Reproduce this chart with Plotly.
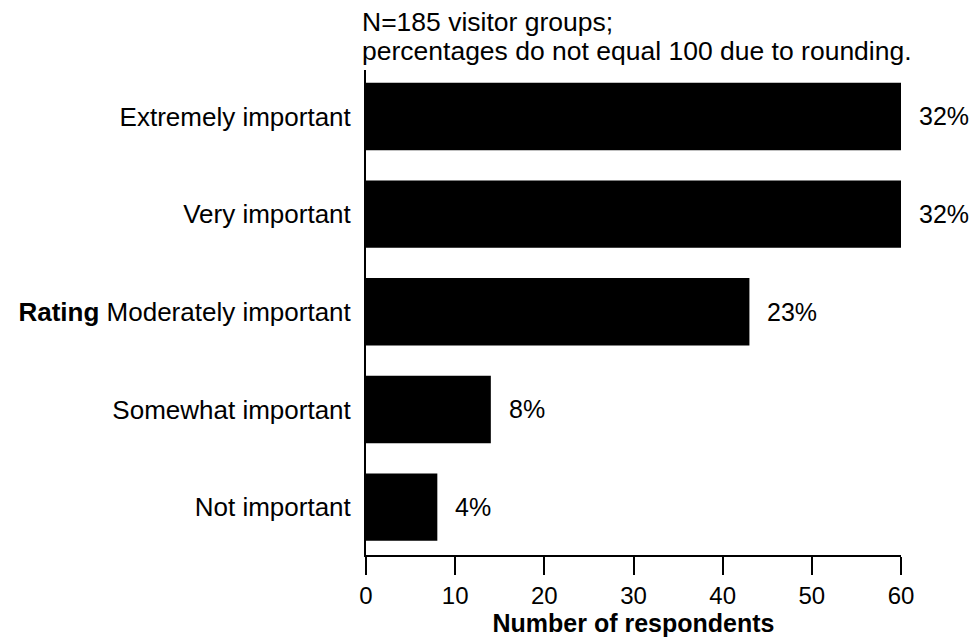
import plotly.graph_objects as go

categories = ["Not important", "Somewhat important", "Moderately important",
              "Very important", "Extremely important"]
tick_labels = ["Not important", "Somewhat important", "<b>Rating</b> Moderately important",
               "Very important", "Extremely important"]
respondents = [8, 14, 43, 60, 60]
percent_labels = ["4%", "8%", "23%", "32%", "32%"]
x_ticks = [0, 10, 20, 30, 40, 50, 60]
title_lines = ["N=185 visitor groups;", "percentages do not equal 100 due to rounding."]
x_title = "Number of respondents"

FONT = "Liberation Sans, Arial, Helvetica, sans-serif"
pos = list(range(len(categories)))

fig = go.Figure()
fig.add_trace(go.Bar(
    x=respondents, y=pos, orientation="h",
    marker=dict(color="black", line=dict(width=0)),
    width=0.69, hoverinfo="skip",
))

for p, v, lab in zip(pos, respondents, percent_labels):
    fig.add_annotation(x=v, y=p, xref="x", yref="y", text=lab, showarrow=False,
                       xanchor="left", xshift=16, font=dict(size=25, color="black", family=FONT))

for line, shift in zip(title_lines, [48, 19]):
    fig.add_annotation(xref="paper", yref="paper", x=0, y=1, xanchor="left", yanchor="middle",
                       align="left", showarrow=False, yshift=shift, xshift=-6,
                       text=line, font=dict(size=26.5, color="black", family=FONT))

fig.update_layout(
    width=971, height=636,
    margin=dict(l=358, r=78, t=62, b=89),
    paper_bgcolor="white", plot_bgcolor="white",
    showlegend=False,
    font=dict(family=FONT, size=26, color="black"),
    xaxis=dict(range=[0, 60], tickvals=x_ticks, ticks="outside", ticklen=18, tickwidth=2,
               tickcolor="black", showline=True, linecolor="black", linewidth=2,
               showgrid=False, zeroline=False, automargin=False,
               tickfont=dict(size=24, family=FONT),
               title=dict(text="<b>" + x_title + "</b>", font=dict(size=25, family=FONT), standoff=2)),
    yaxis=dict(range=[-0.49, 4.476], tickvals=pos, ticktext=tick_labels,
               showline=True, linecolor="black", linewidth=2, showgrid=False, zeroline=False,
               automargin=False,
               ticks="", ticklabelstandoff=8, tickfont=dict(size=26, family=FONT)),
)

fig.write_html("out.html")
